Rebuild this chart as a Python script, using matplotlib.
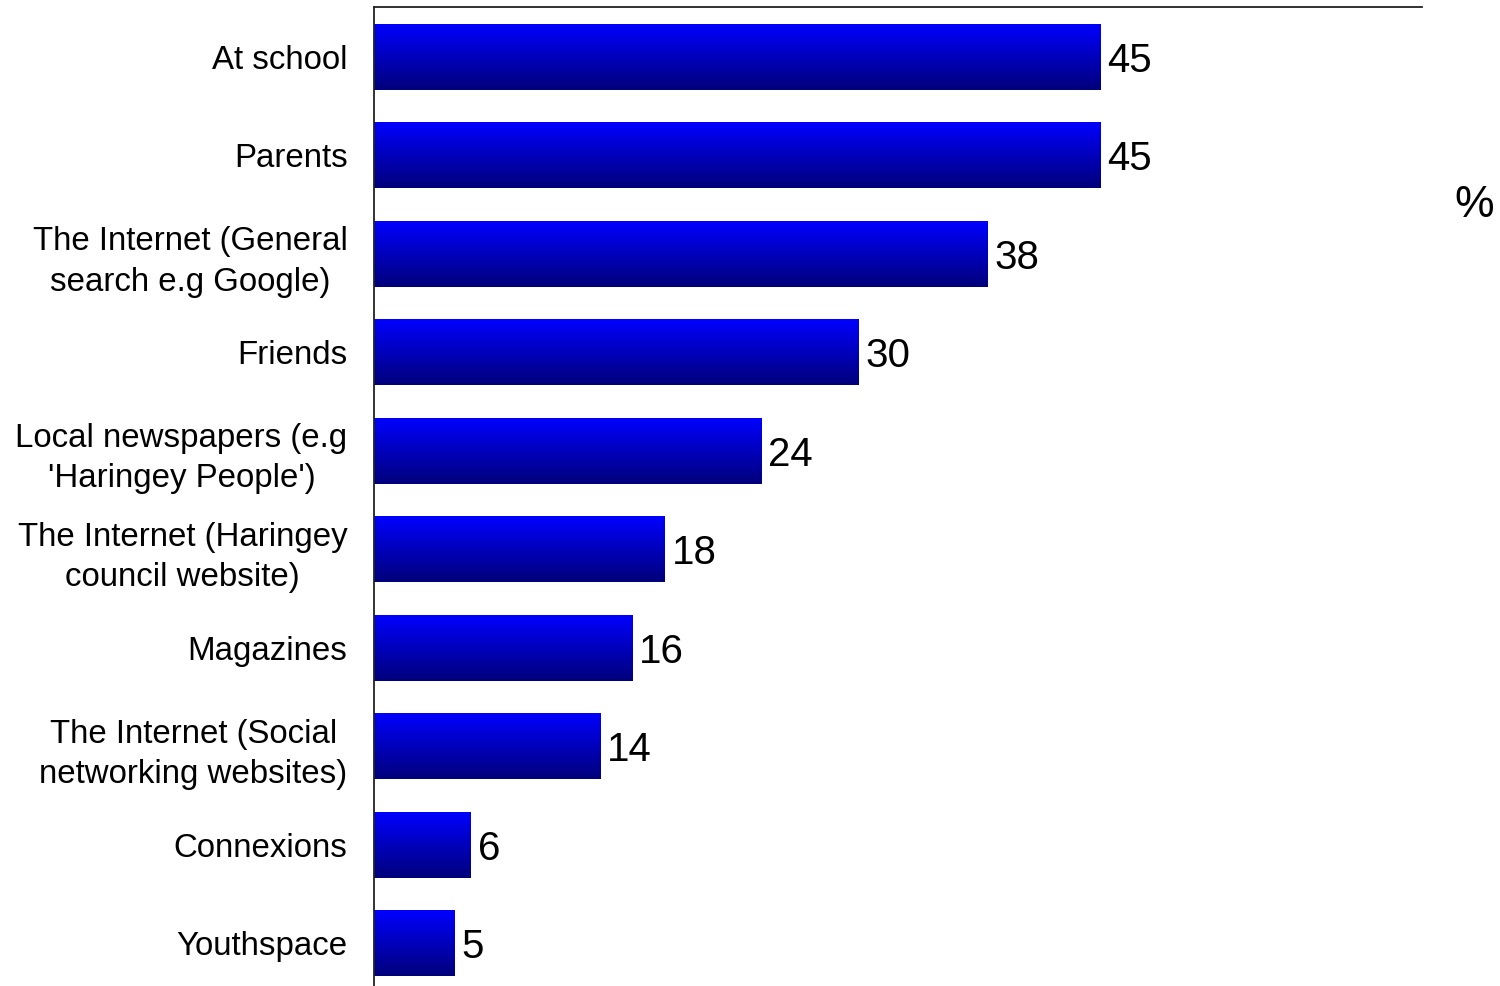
import numpy as np
import matplotlib
matplotlib.use('Agg')
import matplotlib.pyplot as plt

plt.rcParams['font.family'] = ['Liberation Sans', 'DejaVu Sans']

categories = [
    'At school',
    'Parents',
    'The Internet (General\nsearch e.g Google)',
    'Friends',
    "Local newspapers (e.g\n'Haringey People')",
    'The Internet (Haringey\ncouncil website)',
    'Magazines',
    'The Internet (Social\nnetworking websites)',
    'Connexions',
    'Youthspace',
]
values = [45, 45, 38, 30, 24, 18, 16, 14, 6, 5]

fig = plt.figure(figsize=(15, 9.86), dpi=100)
ax = fig.add_axes([0.2493, -0.0071, 0.6987, 1.0])

y = np.arange(len(categories))
bars = ax.barh(y, values, height=0.67, color='none', edgecolor='none')

# vertical gradient: bright blue at top of bar, navy at bottom
grad = np.linspace(0, 1, 256).reshape(-1, 1)
cmap = matplotlib.colors.LinearSegmentedColormap.from_list('bl', ['#0000ff', '#00007a'])
for b, v in zip(bars, values):
    x0, y0 = b.get_x(), b.get_y()
    w, h = b.get_width(), b.get_height()
    im = ax.imshow(grad, cmap=cmap, aspect='auto', interpolation='bilinear',
                   extent=[x0, x0 + w, y0 + h, y0], zorder=2)
    im.set_clip_path(b)
    ax.text(x0 + w + 0.42, y0 + h / 2, str(v), va='center_baseline', ha='left', fontsize=29)

ax.set_xlim(0, 64.9)
ax.set_ylim(len(categories) - 0.5 + 0.008, -0.508)
ax.set_yticks(y)
ax.set_yticklabels(categories, fontsize=23.8, multialignment='center', linespacing=1.38)
ax.tick_params(axis='y', length=0, pad=19)
ax.set_xticks([])

for s in ['right', 'bottom']:
    ax.spines[s].set_visible(False)
for s in ['left', 'top']:
    ax.spines[s].set_linewidth(1.3)
    ax.spines[s].set_color('#222222')

fig.text(0.983, 0.792, '%', fontsize=32, ha='center', va='center')

fig.savefig('out.png', dpi=100)
